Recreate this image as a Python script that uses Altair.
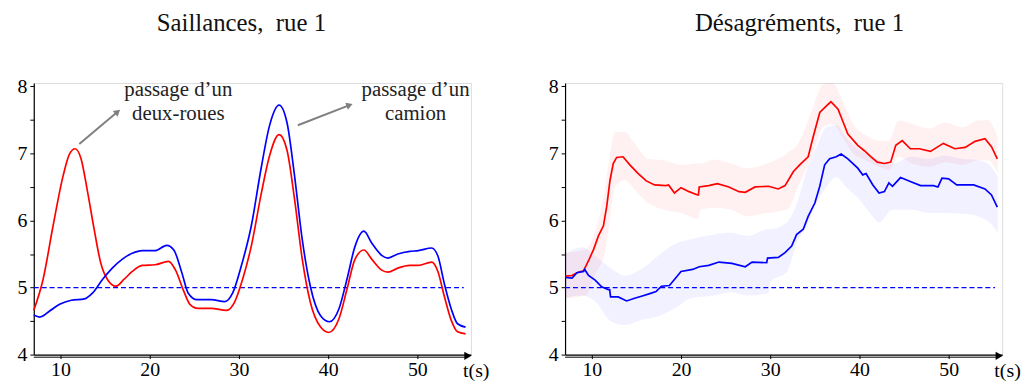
import altair as alt
import pandas as pd

FONT = "Liberation Serif"

# ---------------- Left panel: Saillances ----------------
sal_red_t = [7.0, 8.04, 9.15, 10.26, 11.0, 11.63, 12.3, 13.0, 13.78, 14.5, 15.26, 16.2, 17.1, 18.04,
             19.15, 20.6, 22.1, 22.85, 23.8, 24.5, 25.4, 26.9, 28.6, 29.5, 30.4, 31.37, 32.5, 33.4,
             34.5, 35.4, 36.2, 37.1, 38.0, 39.15, 40.07, 41.2, 42.1, 43.0, 44.0, 44.9, 46.0, 46.7,
             47.8, 49.15, 50.1, 51.6, 52.3, 53.0, 53.8, 54.5, 55.4]
sal_red_v = [4.66, 5.12, 5.91, 6.65, 6.99, 7.07, 6.92, 6.45, 5.86, 5.37, 5.12, 5.02, 5.12, 5.24,
             5.33, 5.34, 5.39, 5.27, 4.95, 4.75, 4.69, 4.69, 4.66, 4.78, 5.12, 5.61, 6.40, 6.95,
             7.28, 7.04, 6.35, 5.42, 4.78, 4.41, 4.33, 4.53, 4.97, 5.42, 5.56, 5.42, 5.26, 5.23,
             5.29, 5.33, 5.33, 5.38, 5.24, 4.88, 4.51, 4.34, 4.31]

sal_blue_t = [7.0, 7.67, 8.78, 9.9, 11.2, 12.67, 13.6, 14.7, 15.8, 16.9, 18.04, 19.15, 20.6, 21.9,
              22.7, 23.6, 24.3, 25.3, 26.9, 28.4, 29.3, 30.26, 31.37, 32.5, 33.4, 34.5, 35.4, 36.2,
              37.1, 38.0, 39.15, 40.15, 41.2, 42.1, 43.0, 44.0, 44.9, 46.0, 46.7, 47.8, 49.15, 50.1,
              51.6, 52.3, 53.0, 53.8, 54.5, 55.4]
sal_blue_v = [4.59, 4.56, 4.65, 4.75, 4.81, 4.83, 4.92, 5.12, 5.29, 5.42, 5.51, 5.55, 5.55, 5.63,
              5.56, 5.22, 4.92, 4.82, 4.82, 4.79, 4.92, 5.32, 5.91, 6.79, 7.40, 7.72, 7.45, 6.70,
              5.71, 5.02, 4.58, 4.49, 4.68, 5.12, 5.61, 5.84, 5.66, 5.48, 5.44, 5.50, 5.54, 5.55,
              5.59, 5.47, 5.07, 4.68, 4.46, 4.41]

# ---------------- Right panel: Désagréments ----------------
des_red_t = [7.04, 7.78, 8.33, 9.07, 9.63, 10.2, 10.74, 11.3, 11.67, 12.04, 12.4, 12.78, 13.5, 14.26,
             15.2, 16.1, 17.04, 18.3, 18.6, 19.26, 20.0, 20.9, 21.85, 21.95, 22.04, 23.1, 24.07,
             25.36, 26.5, 27.2, 28.3, 29.8, 30.9, 31.66, 32.6, 33.3, 34.25, 34.8, 35.55, 36.3, 36.8,
             37.6, 38.1, 38.7, 39.81, 40.55, 41.3, 42.0, 42.8, 43.5, 44.07, 44.8, 45.7, 46.7, 47.96,
             49.4, 50.7, 51.85, 52.96, 54.07, 54.8, 55.45]
des_red_v = [5.17, 5.18, 5.22, 5.25, 5.40, 5.57, 5.77, 5.92, 6.21, 6.60, 6.85, 6.94, 6.95, 6.83,
             6.70, 6.59, 6.53, 6.52, 6.53, 6.41, 6.49, 6.43, 6.38, 6.38, 6.50, 6.52, 6.55,
             6.50, 6.43, 6.42, 6.50, 6.51, 6.47, 6.52, 6.73, 6.83, 6.95, 7.24, 7.61, 7.71, 7.77,
             7.66, 7.49, 7.29, 7.12, 7.04, 6.95, 6.87, 6.85, 6.87, 7.12, 7.19, 7.07, 7.07, 7.03,
             7.15, 7.07, 7.09, 7.18, 7.22, 7.10, 6.92]

des_blue_t = [7.04, 7.78, 8.33, 9.07, 9.2, 9.63, 10.37, 11.1, 11.85, 12.0, 12.1, 12.96, 13.9, 14.8,
              15.56, 16.5, 17.2, 17.8, 18.7, 20.0, 21.3, 22.04, 23.1, 24.25, 25.7, 27.2, 27.96,
              29.6, 29.7, 30.9, 31.66, 32.4, 32.95, 33.7, 34.25, 35.0, 35.55, 36.1, 36.66, 37.4,
              37.95, 38.7, 39.81, 40.37, 40.74, 41.5, 42.2, 42.8, 43.3, 43.7, 44.6, 45.7, 46.85,
              48.3, 48.8, 49.25, 50.0, 50.9, 52.8, 54.07, 54.8, 55.45]
des_blue_v = [5.15, 5.14, 5.22, 5.24, 5.27, 5.18, 5.11, 5.01, 4.97, 4.97, 4.86, 4.86, 4.80, 4.84,
              4.87, 4.91, 4.94, 5.02, 5.03, 5.24, 5.27, 5.31, 5.33, 5.38, 5.36, 5.31, 5.38,
              5.37, 5.44, 5.45, 5.52, 5.62, 5.79, 5.87, 6.06, 6.26, 6.51, 6.83, 6.92, 6.95,
              6.99, 6.92, 6.78, 6.68, 6.70, 6.53, 6.41, 6.43, 6.56, 6.51, 6.64, 6.58, 6.52,
              6.52, 6.50, 6.63, 6.62, 6.53, 6.53, 6.47, 6.38, 6.20]

red_band_t = [7.0, 9.3, 10.4, 11.5, 12.0, 12.6, 13.7, 14.8, 16.3, 18.1, 20.0, 21.9, 22.2, 23.7, 25.6,
              27.4, 29.6, 31.85, 33.3, 34.8, 35.9, 37.0, 38.1, 39.3, 40.7, 42.2, 43.3, 44.4, 45.9,
              47.8, 49.6, 51.5, 53.3, 54.4, 55.5]
red_band_hi = [5.52, 5.57, 5.85, 6.50, 6.95, 7.32, 7.32, 7.15, 6.92, 6.90, 6.83, 6.85, 6.85, 6.91, 6.85,
               6.78, 6.85, 7.00, 7.19, 7.69, 8.03, 8.05, 7.78, 7.44, 7.27, 7.19, 7.19, 7.49, 7.44,
               7.37, 7.46, 7.39, 7.49, 7.50, 7.24]
red_band_lo = [4.84, 4.88, 5.20, 5.55, 6.00, 6.50, 6.60, 6.46, 6.26, 6.16, 6.11, 6.02, 6.16, 6.19, 6.16,
               6.06, 6.11, 6.16, 6.56, 7.00, 7.39, 7.44, 7.24, 7.00, 6.90, 6.80, 6.75, 6.95, 6.85,
               6.80, 6.87, 6.83, 6.90, 6.90, 6.70]

blue_band_t = [7.0, 8.9, 10.4, 12.2, 13.7, 15.6, 17.4, 19.3, 21.1, 23.7, 25.6, 27.4, 29.8, 30.0, 31.85,
               33.0, 34.1, 35.2, 36.3, 37.4, 38.5, 40.0, 41.5, 42.2, 43.7, 45.9, 47.8, 49.6, 51.5,
               53.3, 54.4, 55.5]
blue_band_hi = [5.50, 5.60, 5.47, 5.28, 5.18, 5.28, 5.47, 5.65, 5.72, 5.79, 5.82, 5.77, 5.87, 5.87, 5.97,
                6.26, 6.75, 7.10, 7.39, 7.42, 7.24, 7.05, 6.95, 6.90, 6.85, 6.95, 6.92, 6.97, 6.92,
                6.90, 6.85, 6.65]
blue_band_lo = [4.84, 4.88, 4.79, 4.49, 4.44, 4.52, 4.57, 4.69, 4.84, 4.88, 4.93, 4.88, 4.91, 5.08, 5.23,
                5.67, 5.92, 6.26, 6.50, 6.65, 6.50, 6.31, 6.06, 5.97, 6.16, 6.16, 6.11, 6.11, 6.10,
                6.06, 5.99, 5.82]

x_ticks = [10, 20, 30, 40, 50]
y_ticks = [4, 4.5, 5, 5.5, 6, 6.5, 7, 7.5, 8]
X_DOMAIN = [7, 56]
Y_DOMAIN = [4, 8.05]
REF_LEVEL = 5
REF_END = 55.2

ann_text = pd.DataFrame({
    "t": [23.2, 23.2, 49.8, 49.8],
    "v": [7.95, 7.59, 7.95, 7.59],
    "txt": ["passage d\u2019un", "deux-roues", "passage d\u2019un", "camion"],
})
ann_arrows = pd.DataFrame({
    "t": [12.1, 36.6], "v": [7.14, 7.42],
    "t2": [16.4, 42.4], "v2": [7.62, 7.72],
    "ang": [50, 69],
})

W, H = 441, 274
xs = alt.Scale(domain=X_DOMAIN, nice=False, zero=False)
ys = alt.Scale(domain=Y_DOMAIN, nice=False, zero=False)
cs = alt.Scale(domain=["rouge", "bleu"], range=["#ff0000", "#0000ff"])

x_axis = alt.Axis(values=x_ticks, format="d", title=None, grid=False, tickSize=4,
                  labelFontSize=20, labelFont=FONT, labelColor="black", labelPadding=1,
                  domainColor="black", tickColor="black", domainWidth=1.2)
y_axis = alt.Axis(values=y_ticks, title=None, grid=False, tickSize=4,
                  labelExpr="datum.value % 1 === 0 ? format(datum.value, 'd') : ''",
                  labelFontSize=20, labelFont=FONT, labelColor="black", labelPadding=3,
                  domainColor="black", tickColor="black", domainWidth=1.2)


def X(field):
    return alt.X(field, scale=xs, axis=x_axis)


def Y(field):
    return alt.Y(field, scale=ys, axis=y_axis)


def lines_df(rt, rv, bt, bv):
    return pd.concat([
        pd.DataFrame({"t": rt, "v": rv, "s": "rouge"}),
        pd.DataFrame({"t": bt, "v": bv, "s": "bleu"}),
    ])


def decorations():
    ref = alt.Chart(pd.DataFrame({"t": [X_DOMAIN[0]], "t2": [REF_END], "v": [REF_LEVEL]})).mark_rule(
        color="#0000ff", strokeWidth=1.2, strokeDash=[5, 3]
    ).encode(x=X("t:Q"), x2="t2:Q", y=Y("v:Q"))
    shaft = alt.Chart(pd.DataFrame({"t": [X_DOMAIN[0]], "t2": [55.6], "v": [Y_DOMAIN[0]]})).mark_rule(
        color="black", strokeWidth=1, yOffset=2.6
    ).encode(x=X("t:Q"), x2="t2:Q", y=Y("v:Q"))
    head = alt.Chart(pd.DataFrame({"t": [X_DOMAIN[1]], "v": [Y_DOMAIN[0]]})).mark_point(
        shape="triangle-right", filled=True, color="black", opacity=1, size=70, xOffset=-3, yOffset=1.2
    ).encode(x=X("t:Q"), y=Y("v:Q"))
    tlab = alt.Chart(pd.DataFrame({"t": [56.6], "v": [3.75], "txt": ["t(s)"]})).mark_text(
        font=FONT, fontSize=20, color="black", align="center", baseline="middle"
    ).encode(x=X("t:Q"), y=Y("v:Q"), text="txt:N")
    return [ref, shaft, head, tlab]


def panel(df, interp, title, title_dx, bands=None, annotate=False):
    layers = []
    if bands is not None:
        for (bt, lo, hi, col) in bands:
            layers.append(
                alt.Chart(pd.DataFrame({"t": bt, "lo": lo, "hi": hi})).mark_area(
                    color=col, opacity=0.055, interpolate="monotone"
                ).encode(x=X("t:Q"), y=Y("lo:Q"), y2="hi:Q")
            )
    dec = decorations()
    layers.append(dec[0])
    layers.append(
        alt.Chart(df).mark_line(strokeWidth=1.7, interpolate=interp).encode(
            x=X("t:Q"), y=Y("v:Q"),
            color=alt.Color("s:N", scale=cs, legend=None),
            detail="s:N",
        )
    )
    layers += dec[1:]
    if annotate:
        layers.append(
            alt.Chart(ann_arrows).mark_rule(color="#808080", strokeWidth=2).encode(
                x=X("t:Q"), y=Y("v:Q"), x2="t2:Q", y2="v2:Q")
        )
        layers.append(
            alt.Chart(ann_arrows).mark_point(shape="triangle-up", filled=True, color="#808080",
                                             opacity=1, size=55).encode(
                x=X("t2:Q"), y=Y("v2:Q"), angle=alt.Angle("ang:Q", scale=None))
        )
        layers.append(
            alt.Chart(ann_text).mark_text(font=FONT, fontSize=21, color="#222222",
                                          align="center", baseline="middle").encode(
                x=X("t:Q"), y=Y("v:Q"), text="txt:N")
        )
    return alt.layer(*layers).properties(
        width=W, height=H,
        title=alt.Title(title, font=FONT, fontSize=25, fontWeight="normal", color="#111111",
                        anchor="middle", dx=title_dx, offset=41),
    )


left = panel(lines_df(sal_red_t, sal_red_v, sal_blue_t, sal_blue_v), "monotone",
             "Saillances,\u00a0 rue 1", -11, annotate=True)
right = panel(lines_df(des_red_t, des_red_v, des_blue_t, des_blue_v), "linear",
              "Désagréments,\u00a0 rue 1", 16,
              bands=[(red_band_t, red_band_lo, red_band_hi, "#ff0000"),
                     (blue_band_t, blue_band_lo, blue_band_hi, "#0000ff")])

chart = alt.hconcat(left, right, spacing=57).configure_view(strokeWidth=0).configure(
    padding={"left": 8, "top": 0, "right": 2, "bottom": 2}, background="white"
)

chart.save("out.html", embed_options={"renderer": "svg", "actions": False})
